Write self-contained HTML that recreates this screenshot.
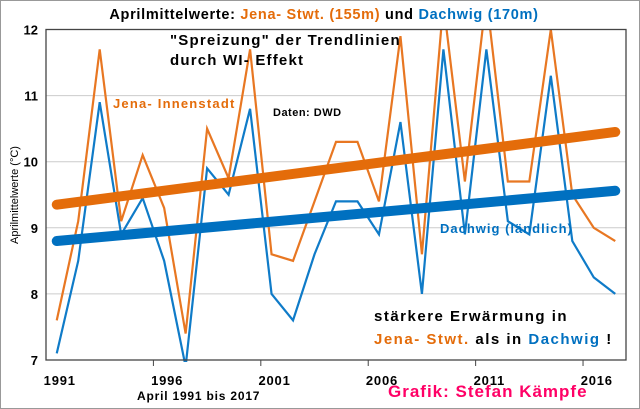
<!DOCTYPE html>
<html><head><meta charset="utf-8"><style>
body{margin:0;background:#fff}
svg{display:block;font-family:"Liberation Sans",Arial,sans-serif;font-weight:bold}
</style></head><body>
<svg id="chart" width="640" height="409" viewBox="0 0 640 409" xmlns="http://www.w3.org/2000/svg">
<rect x="0.5" y="0.5" width="639" height="408" fill="#fff" stroke="#999"/>
<g id="grid"></g>
<g id="series"></g>
<rect x="46" y="29.5" width="580" height="330.5" fill="none" stroke="#444" stroke-width="1.3"/>
<g id="axes" font-size="13" fill="#000"></g>
<text x="324" y="19" text-anchor="middle" font-size="14.5" letter-spacing="0.7">Aprilmittelwerte: <tspan fill="#E46C0A">Jena- Stwt. (155m)</tspan> und <tspan fill="#0070C0">Dachwig (170m)</tspan></text>
<text transform="translate(18,195) rotate(-90)" text-anchor="middle" font-size="11" font-weight="normal">Aprilmittelwerte (°C)</text>
<text x="170" y="45" font-size="15" letter-spacing="1.2">"Spreizung" der Trendlinien</text>
<text x="170" y="65" font-size="15" letter-spacing="1.2">durch WI- Effekt</text>
<text x="113" y="108" font-size="13" letter-spacing="1.2" fill="#E46C0A">Jena- Innenstadt</text>
<text x="273" y="116" font-size="11" letter-spacing="0.5">Daten: DWD</text>
<text x="440" y="233" font-size="13" letter-spacing="1" fill="#0070C0">Dachwig (ländlich)</text>
<text x="374" y="321" font-size="15" letter-spacing="1.5">stärkere Erwärmung in</text>
<text x="374" y="344" font-size="15" letter-spacing="1.5"><tspan fill="#E46C0A">Jena- Stwt.</tspan> als in <tspan fill="#0070C0">Dachwig</tspan> !</text>
<text x="137" y="400" font-size="12" letter-spacing="0.8">April 1991 bis 2017</text>
<text x="388" y="397" font-size="17" letter-spacing="1" fill="#FF0066">Grafik: Stefan Kämpfe</text>
</svg>
<script>
const years=[1991,1992,1993,1994,1995,1996,1997,1998,1999,2000,2001,2002,2003,2004,2005,2006,2007,2008,2009,2010,2011,2012,2013,2014,2015,2016,2017];
const jena=[7.6,9.1,11.7,9.1,10.1,9.3,7.4,10.5,9.75,11.7,8.6,8.5,9.4,10.3,10.3,9.4,11.9,8.6,12.4,9.7,12.5,9.7,9.7,12.0,9.5,9.0,8.8];
const dachwig=[7.1,8.5,10.9,8.9,9.45,8.5,6.9,9.9,9.5,10.8,8.0,7.6,8.6,9.4,9.4,8.9,10.6,8.0,11.7,8.9,11.7,9.1,8.9,11.3,8.8,8.25,8.0];
const trendJena=[9.35,10.45];
const trendDachwig=[8.8,9.56];
const yTicks=[7,8,9,10,11,12];
const xTickLabels=[1991,1996,2001,2006,2011,2016];

const NS="http://www.w3.org/2000/svg";
const L=46,R=626,T=29.5,B=360,ymin=7,ymax=12;
const w=(R-L)/years.length;
const xs=i=>L+(i+0.5)*w;
const ys=v=>B-(v-ymin)/(ymax-ymin)*(B-T);
function mk(tag,attrs,parent){const e=document.createElementNS(NS,tag);for(const k in attrs)e.setAttribute(k,attrs[k]);parent.appendChild(e);return e;}
const grid=document.getElementById('grid'),axes=document.getElementById('axes'),series=document.getElementById('series');
yTicks.forEach(v=>{
  if(v>ymin&&v<ymax){const g=mk('line',{x1:L,x2:R,y1:ys(v),y2:ys(v),stroke:'#ccc','stroke-width':1},grid);
  
  }
  const t=mk('text',{x:38,y:ys(v)+5,'text-anchor':'end'},axes);t.textContent=v;
  
  
});
for(let k=5;k<years.length;k+=5){const tk=mk('line',{x1:L+k*w,x2:L+k*w,y1:B,y2:B+6,stroke:'#444'},axes);
  
  }
xTickLabels.forEach(y=>{const i=years.indexOf(y);const t=mk('text',{x:xs(i)+3,y:385,'text-anchor':'middle','letter-spacing':'0.8'},axes);t.textContent=y;
  
  });
const clip=mk('clipPath',{id:'pc'},mk('defs',{},series));mk('rect',{x:L,y:T,width:R-L,height:B-T+2},clip);
function line(data,color,name){const p=mk('polyline',{points:data.map((v,i)=>xs(i)+','+ys(v)).join(' '),fill:'none',stroke:color,'stroke-width':2.2,'stroke-linejoin':'miter','clip-path':'url(#pc)'},series);
  
  }
function trend(tr,color,name){const p=mk('line',{x1:xs(0),y1:ys(tr[0]),x2:xs(years.length-1),y2:ys(tr[1]),stroke:color,'stroke-width':10,'stroke-linecap':'round'},series);
  
  }
line(jena,'#E87722','series-jena');
line(dachwig,'#0F7BC8','series-dachwig');
trend(trendJena,'#E46C0A','trendline-jena');
trend(trendDachwig,'#0070C0','trendline-dachwig');
</script>
</body></html>
